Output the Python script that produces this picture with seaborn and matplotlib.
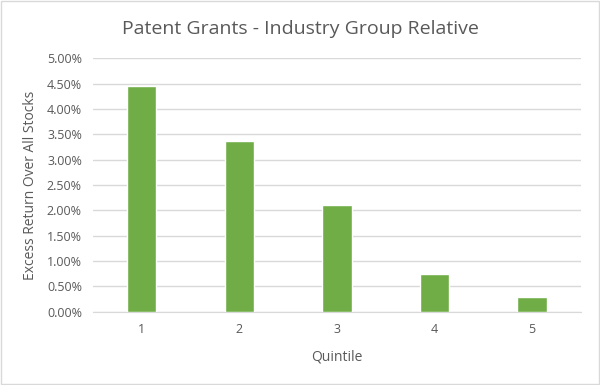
import matplotlib
matplotlib.use("Agg")
import matplotlib.pyplot as plt
import seaborn as sns
import pandas as pd
from matplotlib.ticker import FuncFormatter, MultipleLocator

quintiles = ["1", "2", "3", "4", "5"]
excess_return = [0.0445, 0.0336, 0.0210, 0.0074, 0.0029]

sns.set_style("white")
plt.rcParams["font.family"] = ["Open Sans", "DejaVu Sans"]

df = pd.DataFrame({"Quintile": quintiles, "Excess": excess_return})

fig = plt.figure(figsize=(6, 3.85), dpi=100)
ax = fig.add_axes([0.155, 0.19, 0.813, 0.659])

sns.barplot(data=df, x="Quintile", y="Excess", color="#70AD47", width=0.3,
            saturation=1, ax=ax, zorder=3)

ax.set_ylim(0, 0.05)
ax.yaxis.set_major_locator(MultipleLocator(0.005))
ax.yaxis.set_major_formatter(FuncFormatter(lambda v, p: f"{v*100:.2f}%"))
ax.grid(axis="y", color="#D9D9D9", linewidth=1, zorder=0)
for s in ["top", "right", "left"]:
    ax.spines[s].set_visible(False)
ax.spines["bottom"].set_color("#D9D9D9")
ax.tick_params(axis="both", length=0, labelsize=9, colors="#595959", pad=8)
ax.set_xlabel("Quintile", fontsize=10, color="#595959", labelpad=10)
ax.set_ylabel("Excess Return Over All Stocks", fontsize=10, color="#595959", labelpad=6)

fig.text(0.5, 0.925, "Patent Grants - Industry Group Relative", ha="center", va="center",
         fontsize=14, color="#595959")

fig.patches.append(plt.Rectangle((0.002, 0.003), 0.996, 0.994, transform=fig.transFigure,
                                 fill=False, edgecolor="#D9D9D9", linewidth=1))

fig.savefig("out.png", dpi=100)
